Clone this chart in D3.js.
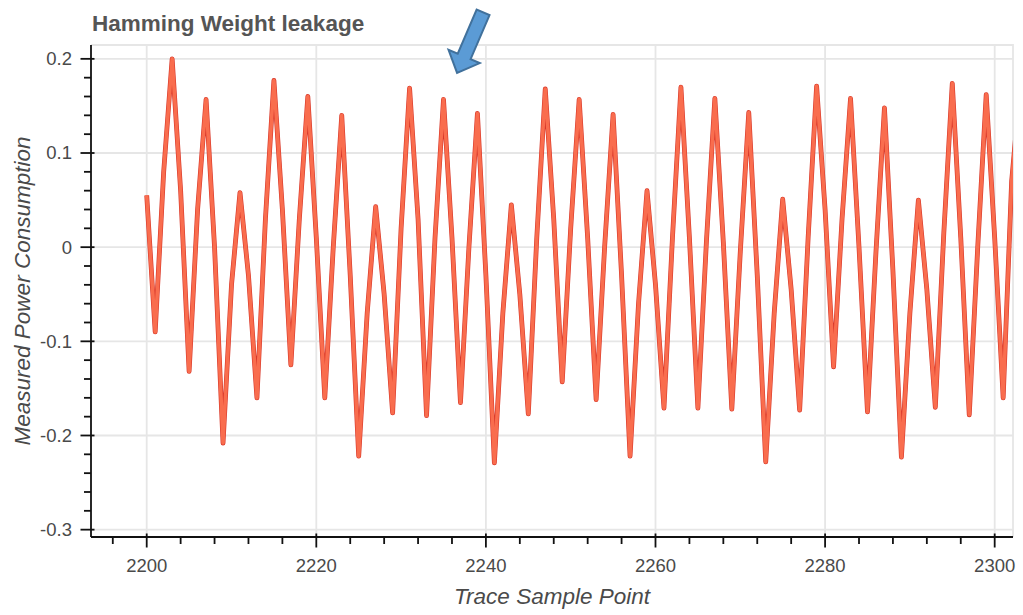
<!DOCTYPE html>
<html>
<head>
<meta charset="utf-8">
<script src="https://cdn.jsdelivr.net/npm/d3@7"></script>
<style>
  html, body { margin: 0; padding: 0; background: #fff; }
  svg { display: block; font-family: "Liberation Sans", Arial, Helvetica, sans-serif; }
</style>
</head>
<body>
<svg id="chart" width="1023" height="615"></svg>
<script>
// Sample indices of the trace window
const samplePoints = [
  2200, 2201, 2202, 2203, 2204, 2205, 2206, 2207, 2208, 2209,
  2210, 2211, 2212, 2213, 2214, 2215, 2216, 2217, 2218, 2219,
  2220, 2221, 2222, 2223, 2224, 2225, 2226, 2227, 2228, 2229,
  2230, 2231, 2232, 2233, 2234, 2235, 2236, 2237, 2238, 2239,
  2240, 2241, 2242, 2243, 2244, 2245, 2246, 2247, 2248, 2249,
  2250, 2251, 2252, 2253, 2254, 2255, 2256, 2257, 2258, 2259,
  2260, 2261, 2262, 2263, 2264, 2265, 2266, 2267, 2268, 2269,
  2270, 2271, 2272, 2273, 2274, 2275, 2276, 2277, 2278, 2279,
  2280, 2281, 2282, 2283, 2284, 2285, 2286, 2287, 2288, 2289,
  2290, 2291, 2292, 2293, 2294, 2295, 2296, 2297, 2298, 2299,
  2300, 2301, 2302, 2303
];

// Averaged power consumption at each sample point
const powerValues = [
  0.055, -0.090, 0.080, 0.200, 0.060, -0.132, 0.040, 0.157, 0.000, -0.208,
  -0.040, 0.058, -0.030, -0.160, 0.030, 0.177, 0.040, -0.125, 0.030, 0.160,
  0.010, -0.160, 0.000, 0.140, -0.030, -0.222, -0.070, 0.043, -0.050, -0.176,
  0.020, 0.169, 0.030, -0.179, 0.010, 0.157, 0.010, -0.165, 0.000, 0.142,
  -0.030, -0.229, -0.070, 0.045, -0.050, -0.177, 0.010, 0.168, 0.030, -0.143,
  0.020, 0.157, 0.010, -0.162, 0.000, 0.141, -0.030, -0.222, -0.060, 0.060,
  -0.040, -0.171, 0.010, 0.170, 0.010, -0.171, 0.005, 0.158, 0.005, -0.172,
  -0.005, 0.143, -0.030, -0.228, -0.070, 0.051, -0.045, -0.173, 0.010, 0.171,
  0.040, -0.127, 0.030, 0.158, 0.000, -0.175, -0.005, 0.148, -0.025, -0.223,
  -0.070, 0.050, -0.045, -0.170, 0.015, 0.174, 0.010, -0.178, 0.000, 0.162,
  0.010, -0.160, 0.070, 0.170
];

// Axis ticks
const xMajorTicks = [2200, 2220, 2240, 2260, 2280, 2300];
const xMinorTicks = [2196, 2204, 2208, 2212, 2216, 2224, 2228, 2232, 2236,
  2244, 2248, 2252, 2256, 2264, 2268, 2272, 2276, 2284, 2288, 2292, 2296];
const yMajorTicks = [-0.3, -0.2, -0.1, 0, 0.1, 0.2];
const yMinorTicks = [-0.28, -0.26, -0.24, -0.22, -0.18, -0.16, -0.14, -0.12,
  -0.08, -0.06, -0.04, -0.02, 0.02, 0.04, 0.06, 0.08, 0.12, 0.14, 0.16, 0.18];

// Point of interest marked by the arrow
const highlight = { sample: 2236.6, value: 0.185 };

const svg = d3.select("#chart");
const plot = { left: 91, right: 1013, top: 45, bottom: 537 };

const x = d3.scaleLinear().domain([2193.43, 2302.16]).range([plot.left, plot.right]);
const y = d3.scaleLinear().domain([-0.3078, 0.2147]).range([plot.bottom, plot.top]);

const fmtY = d => d === 0 ? "0" : String(d).replace("\u2212", "-");

// Grid lines
const grid = svg.append("g").attr("class", "grid");
grid.selectAll("line.gx").data(xMajorTicks).join("line")
  .attr("x1", d => x(d)).attr("x2", d => x(d))
  .attr("y1", plot.top).attr("y2", plot.bottom)
  .attr("stroke", "#e6e6e6").attr("stroke-width", 1.8);
grid.selectAll("line.gy").data(yMajorTicks).join("line")
  .attr("x1", plot.left).attr("x2", plot.right)
  .attr("y1", d => y(d)).attr("y2", d => y(d))
  .attr("stroke", "#e6e6e6").attr("stroke-width", 1.8);

// Plot outline (top and right)
svg.append("path")
  .attr("d", `M${plot.left},${plot.top}H${plot.right}V${plot.bottom}`)
  .attr("fill", "none").attr("stroke", "#e6e6e6").attr("stroke-width", 1.8);

// Trace
svg.append("clipPath").attr("id", "clip")
  .append("rect").attr("x", plot.left).attr("y", plot.top)
  .attr("width", plot.right - plot.left).attr("height", plot.bottom - plot.top);

const series = samplePoints.map((s, i) => ({ s, v: powerValues[i] }));
const line = d3.line().x(d => x(d.s)).y(d => y(d.v));

const traces = svg.append("g").attr("clip-path", "url(#clip)");
traces.append("path").datum(series)
  .attr("d", line).attr("fill", "none")
  .attr("stroke", "#d8382a").attr("stroke-width", 4.8)
  .attr("stroke-linejoin", "round");
traces.append("path").datum(series)
  .attr("d", line).attr("fill", "none")
  .attr("stroke", "#f96d4e").attr("stroke-width", 3.6)
  .attr("stroke-linejoin", "round");

// X axis
const xAxisG = svg.append("g").attr("transform", `translate(0,${plot.bottom})`);
xAxisG.append("line").attr("x1", plot.left).attr("x2", plot.right)
  .attr("stroke", "#111").attr("stroke-width", 1.8);
xAxisG.selectAll("line.major").data(xMajorTicks).join("line")
  .attr("x1", d => x(d)).attr("x2", d => x(d)).attr("y1", -3.5).attr("y2", 10.5)
  .attr("stroke", "#111").attr("stroke-width", 1.8);
xAxisG.selectAll("line.minor").data(xMinorTicks).join("line")
  .attr("x1", d => x(d)).attr("x2", d => x(d)).attr("y1", 0).attr("y2", 7)
  .attr("stroke", "#111").attr("stroke-width", 1.8);
xAxisG.selectAll("text").data(xMajorTicks).join("text")
  .attr("x", d => x(d)).attr("y", 35)
  .attr("text-anchor", "middle").attr("fill", "#4a4a4a").attr("font-size", 18.5)
  .text(d => d);

// Y axis
const yAxisG = svg.append("g").attr("transform", `translate(${plot.left},0)`);
yAxisG.append("line").attr("y1", plot.top).attr("y2", plot.bottom)
  .attr("stroke", "#111").attr("stroke-width", 1.8);
yAxisG.selectAll("line.major").data(yMajorTicks).join("line")
  .attr("y1", d => y(d)).attr("y2", d => y(d)).attr("x1", -10.5).attr("x2", 3.5)
  .attr("stroke", "#111").attr("stroke-width", 1.8);
yAxisG.selectAll("line.minor").data(yMinorTicks).join("line")
  .attr("y1", d => y(d)).attr("y2", d => y(d)).attr("x1", -7).attr("x2", 0)
  .attr("stroke", "#111").attr("stroke-width", 1.8);
yAxisG.selectAll("text").data(yMajorTicks).join("text")
  .attr("x", -19).attr("y", d => y(d)).attr("dy", "0.35em")
  .attr("text-anchor", "end").attr("fill", "#4a4a4a").attr("font-size", 18.5)
  .text(fmtY);

// Axis titles
svg.append("text")
  .attr("x", (plot.left + plot.right) / 2).attr("y", 604)
  .attr("text-anchor", "middle").attr("fill", "#4a4a4a")
  .attr("font-size", 22.5).attr("font-style", "italic")
  .text("Trace Sample Point");
svg.append("text")
  .attr("transform", `translate(30,${(plot.top + plot.bottom) / 2}) rotate(-90)`)
  .attr("text-anchor", "middle").attr("fill", "#4a4a4a")
  .attr("font-size", 22.5).attr("font-style", "italic")
  .text("Measured Power Consumption");

// Title
svg.append("text")
  .attr("x", 92).attr("y", 31)
  .attr("fill", "#555").attr("font-size", 22.5).attr("font-weight", "bold")
  .text("Hamming Weight leakage");

// Arrow annotation pointing at the leaking peaks
(function drawArrow() {
  const tip = [x(highlight.sample), y(highlight.value)];
  const dir = [-0.394, 0.919];
  const n = [dir[1], -dir[0]];
  const len = 66, headLen = 18, shaftHalf = 7, headHalf = 17;
  const tail = [tip[0] - dir[0] * len, tip[1] - dir[1] * len];
  const base = [tip[0] - dir[0] * headLen, tip[1] - dir[1] * headLen];
  const pt = (p, k) => [p[0] + n[0] * k, p[1] + n[1] * k];
  const pts = [pt(tail, shaftHalf), pt(base, shaftHalf), pt(base, headHalf), tip,
    pt(base, -headHalf), pt(base, -shaftHalf), pt(tail, -shaftHalf)];
  svg.append("path")
    .attr("d", "M" + pts.map(p => p.join(",")).join("L") + "Z")
    .attr("fill", "#5b9bd5").attr("stroke", "#41719c").attr("stroke-width", 2)
    .attr("stroke-linejoin", "miter");
})();
</script>
</body>
</html>
